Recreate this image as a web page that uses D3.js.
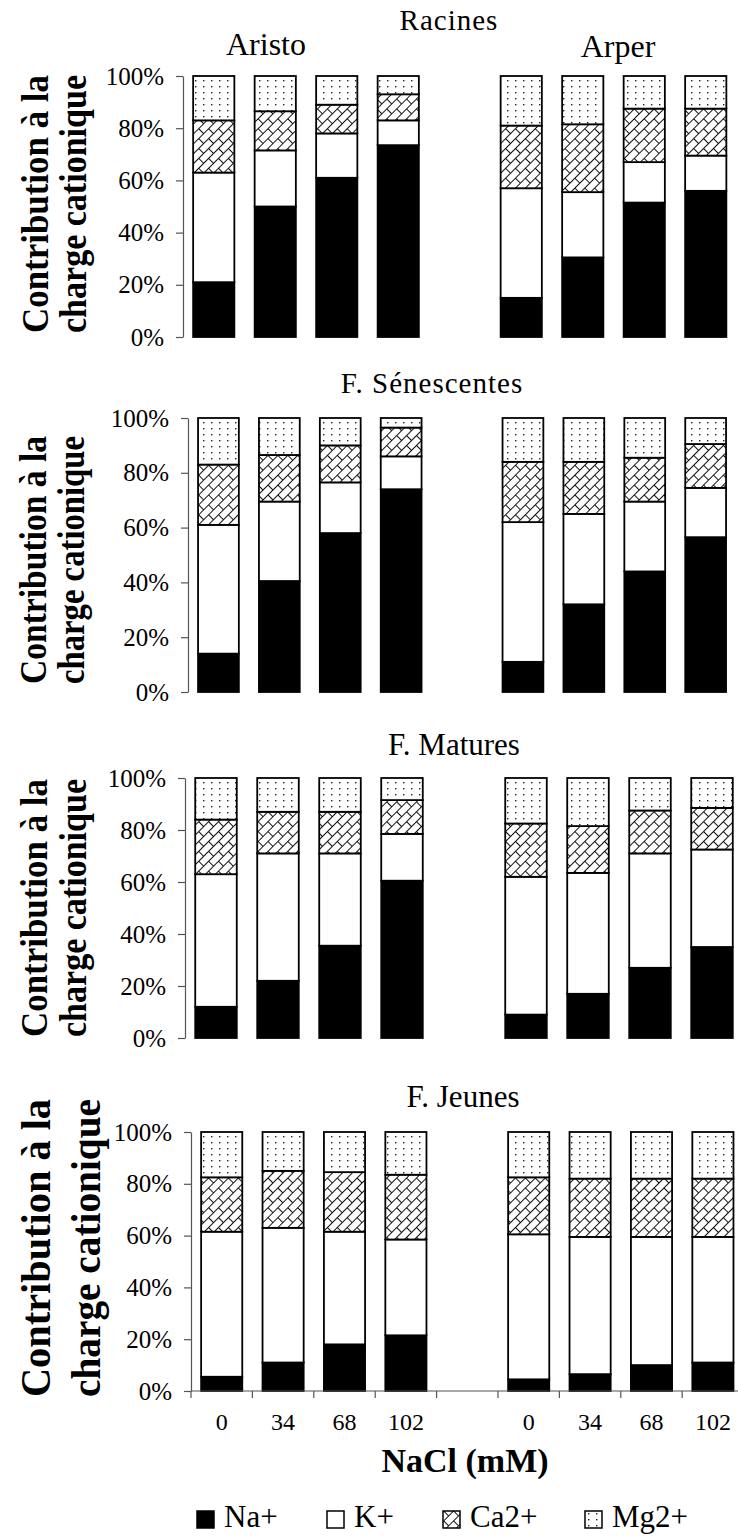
<!DOCTYPE html>
<html lang="fr">
<head>
    <meta charset="UTF-8">
    <title>Contribution à la charge cationique</title>
    <script src="https://d3js.org/d3.v7.min.js"></script>
    <style>
        body { margin: 0; background: #fff; }
        svg text { font-family: "Liberation Serif", "Times New Roman", Times, "DejaVu Serif", serif; fill: #000; }
        .axis text { font-size: 25px; }
        .axis path, .axis line { stroke: #555; stroke-width: 1.2; }
    </style>
</head>
<body>
    <svg width="738" height="1536"></svg>
    <script>
        // categories
        const doses = ["0", "34", "68", "102"];
        const cultivars = ["Aristo", "Arper"];
        const ions = ["Na+", "K+", "Ca2+", "Mg2+"];
        const organs = ["Racines", "F. Sénescentes", "F. Matures", "F. Jeunes"];

        // % of cationic charge, one row per bar: [Na+, K+, Ca2+, Mg2+]
        // Aristo 0, 34, 68, 102 then Arper 0, 34, 68, 102
        const racines = [
            [21, 42, 20, 17], [50, 21.5, 15, 13.5], [61, 17, 11, 11], [73.5, 9.5, 10, 7],
            [15, 42, 24, 19], [30.5, 25, 26, 18.5], [51.5, 15.5, 20.5, 12.5], [56, 13.5, 18, 12.5]
        ];
        const senescentes = [
            [14, 47, 22, 17], [40.5, 29, 17, 13.5], [58, 18.5, 13.5, 10], [74, 12, 10.5, 3.5],
            [11, 51, 22, 16], [32, 33, 19, 16], [44, 25.5, 16, 14.5], [56.5, 18, 16, 9.5]
        ];
        const matures = [
            [12, 51, 21, 16], [22, 49, 16, 13], [35.5, 35.5, 16, 13], [60.5, 18, 13, 8.5],
            [9, 53, 20.5, 17.5], [17, 46.5, 18, 18.5], [27, 44, 16.5, 12.5], [35, 37.5, 16, 11.5]
        ];
        const jeunes = [
            [5.5, 56, 21, 17.5], [11, 52, 22, 15], [18, 43.5, 23, 15.5], [21.5, 37, 25, 16.5],
            [4.5, 56, 22, 17.5], [6.5, 53, 22.5, 18], [10, 49.5, 22.5, 18], [11, 48.5, 22.5, 18]
        ];
        const yTicks = [0, 20, 40, 60, 80, 100];

        // layout of the four stacked panels
        const panelTop = [76, 418, 778, 1132];
        const panelBottom = [337, 692, 1038, 1391];
        const axisX = [183, 188, 185, 191];
        const step = [61.5, 60.9, 62, 61.4];
        const titlePos = [[449, 30, 29], [432, 393, 29], [454, 755, 31], [463, 1107, 31]];
        const yLabel = [
            { cy: 204, len: 258, b1: 48, b2: 86, size: 38 },
            { cy: 560, len: 248, b1: 46, b2: 84, size: 37 },
            { cy: 908, len: 258, b1: 47, b2: 86, size: 38 },
            { cy: 1248, len: 298, b1: 50, b2: 100, size: 42 }
        ];
        const allData = [racines, senescentes, matures, jeunes];

        const svg = d3.select("svg");
        const defs = svg.append("defs");

        // Mg2+ : dotted
        const dots = defs.append("pattern").attr("id", "dots")
            .attr("patternUnits", "userSpaceOnUse").attr("width", 8).attr("height", 6);
        dots.append("rect").attr("width", 8).attr("height", 6).attr("fill", "#fff");
        dots.append("rect").attr("x", 3).attr("y", 2).attr("width", 1.4).attr("height", 1.4).attr("fill", "#222");

        // Ca2+ : diagonal brick
        const brick = defs.append("pattern").attr("id", "brick")
            .attr("patternUnits", "userSpaceOnUse").attr("width", 14).attr("height", 14)
            .attr("patternTransform", "rotate(-45)");
        brick.append("rect").attr("width", 14).attr("height", 14).attr("fill", "#fff");
        brick.append("path")
            .attr("d", "M0,0.5H14M0,7.5H14M0.5,0.5V7.5M7.5,7.5V14.5")
            .attr("stroke", "#111").attr("stroke-width", 1).attr("fill", "none");

        const fills = ["#000", "#fff", "url(#brick)", "url(#dots)"];
        const slots = d3.range(9); // 4 Aristo, gap, 4 Arper
        const barSlot = [0, 1, 2, 3, 5, 6, 7, 8];

        allData.forEach((rows, p) => {
            const x = d3.scaleBand()
                .domain(slots)
                .range([axisX[p], axisX[p] + 9 * step[p]])
                .paddingInner(0.33)
                .paddingOuter(0.165);
            const y = d3.scaleLinear().domain([0, 100]).range([panelBottom[p], panelTop[p]]);

            const table = rows.map((r, i) => {
                const o = { slot: barSlot[i] };
                ions.forEach((ion, k) => o[ion] = r[k]);
                return o;
            });
            const series = d3.stack().keys(ions)(table);

            const g = svg.append("g");
            g.selectAll("g.ion")
                .data(series)
                .join("g")
                .attr("class", "ion")
                .attr("fill", (d, k) => fills[k])
                .selectAll("rect")
                .data(d => d)
                .join("rect")
                .attr("x", d => x(d.data.slot))
                .attr("y", d => y(d[1]))
                .attr("width", x.bandwidth())
                .attr("height", d => y(d[0]) - y(d[1]))
                .attr("stroke", "#000")
                .attr("stroke-width", 1.8);

            const ya = svg.append("g")
                .attr("class", "axis")
                .attr("transform", `translate(${axisX[p]},0)`)
                .call(d3.axisLeft(y).tickValues(yTicks).tickSize(7).tickSizeOuter(0)
                    .tickPadding(12).tickFormat(d => d + "%"));
            ya.attr("font-family", null);

            // panel title
            svg.append("text")
                .attr("x", titlePos[p][0]).attr("y", titlePos[p][1])
                .attr("text-anchor", "middle")
                .style("font-size", titlePos[p][2] + "px")
                .style("letter-spacing", p < 2 ? "1px" : "0px")
                .text(organs[p]);

            // y label, two lines
            const yl = yLabel[p];
            ["Contribution à la", "charge cationique"].forEach((t, k) => {
                const bx = k === 0 ? yl.b1 : yl.b2;
                svg.append("text")
                    .attr("transform", `translate(${bx},${yl.cy}) rotate(-90)`)
                    .attr("text-anchor", "middle")
                    .attr("textLength", yl.len)
                    .attr("lengthAdjust", "spacingAndGlyphs")
                    .style("font-size", yl.size + "px")
                    .style("font-weight", "bold")
                    .text(t);
            });

            if (p === 0) {
                [[266, 55], [618, 57]].forEach((pos, c) => {
                    svg.append("text")
                        .attr("x", pos[0]).attr("y", pos[1])
                        .attr("text-anchor", "middle")
                        .style("font-size", "32px")
                        .text(cultivars[c]);
                });
            }

            if (p === 3) {
                const xa = svg.append("g")
                    .attr("class", "axis")
                    .attr("transform", `translate(0,${panelBottom[p]})`)
                    .call(d3.axisBottom(x).tickSize(0).tickPadding(22)
                        .tickFormat(s => s === 4 ? "" : doses[s % 5]));
                xa.attr("font-family", null);
                xa.select(".domain").attr("d", `M${axisX[p]},0H${axisX[p] + 9 * step[p]}`);
                xa.selectAll("text").style("font-size", "24px");
                const bounds = d3.range(10).map(i => axisX[p] + i * x.step());
                xa.selectAll("line.bound")
                    .data(bounds)
                    .join("line")
                    .attr("class", "bound")
                    .attr("x1", d => d).attr("x2", d => d)
                    .attr("y1", 0).attr("y2", 7);

                svg.append("text")
                    .attr("x", 465).attr("y", 1472)
                    .attr("text-anchor", "middle")
                    .style("font-size", "34px")
                    .style("font-weight", "bold")
                    .text("NaCl (mM)");
            }
        });

        // legend
        const legendX = [197, 327, 443, 585];
        const leg = svg.append("g").attr("transform", "translate(0,1511)");
        const item = leg.selectAll("g")
            .data(ions)
            .join("g")
            .attr("transform", (d, i) => `translate(${legendX[i]},0)`);
        item.append("rect")
            .attr("width", 17).attr("height", 17)
            .attr("fill", (d, i) => fills[i])
            .attr("stroke", "#000").attr("stroke-width", 1.5);
        item.append("text")
            .attr("x", 27).attr("y", 16)
            .style("font-size", "31px")
            .text(d => d);
    </script>
</body>
</html>
